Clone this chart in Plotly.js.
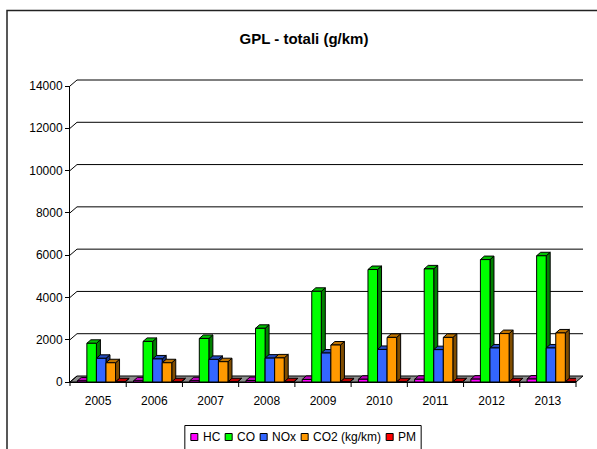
<!DOCTYPE html>
<html><head><meta charset="utf-8">
<script src="https://cdn.plot.ly/plotly-3.0.1.min.js"></script>
<style>html,body{margin:0;padding:0;background:#fff;}#chart{width:597px;height:449px;}</style>
</head><body><div id="chart"></div>
<script>
// ---- data ----
const years = ['2005','2006','2007','2008','2009','2010','2011','2012','2013'];
const seriesNames = ['HC','CO','NOx','CO2 (kg/km)','PM'];
const hc  = [50, 55, 60, 70, 120, 130, 130, 135, 140];
const co  = [1830, 1920, 2060, 2540, 4290, 5320, 5350, 5790, 5970];
const nox = [1120, 1090, 1070, 1130, 1370, 1540, 1530, 1610, 1610];
const co2 = [910, 910, 960, 1140, 1750, 2110, 2110, 2290, 2320];
const pm  = [10, 10, 10, 10, 10, 10, 10, 10, 10];
const yTicks = [0, 2000, 4000, 6000, 8000, 10000, 12000, 14000];
const yTickLabels = ['0', '2000', '4000', '6000', '8000', '10000', '12000', '14000'];
const titleText = 'GPL - totali (g/km)';

// ---- styles ----
const colors = ['#FF00FF', '#00FF00', '#3366FF', '#FF9900', '#FF0000'];
const W = 597, H = 449, L = 70, R = 576, T = 86, B = 382;
const pw = R - L, ph = B - T;
const yMax = 14000;
const bargap = 0.15;
const shift = 0.055; // 3D perspective shift of the bar row (category units)
const font = "'Liberation Sans', Arial, sans-serif";
const px = x => (x - L) / pw;
const py = y => (B - y) / ph;

function shade(hex, f) {
  const n = parseInt(hex.slice(1), 16);
  const r = Math.round(((n >> 16) & 255) * f), g = Math.round(((n >> 8) & 255) * f), b = Math.round((n & 255) * f);
  return `rgb(${r},${g},${b})`;
}

const series = [hc, co, nox, co2, pm];
const nS = series.length, bw = (1 - bargap) / nS;
const xIdx = years.map((_, i) => i);
const traces = series.map((vals, k) => ({
  type: 'bar', name: seriesNames[k], x: xIdx, y: vals,
  offset: -(1 - bargap) / 2 + k * bw + shift, width: bw,
  marker: { color: colors[k], line: { color: '#000', width: 1 } },
  showlegend: false, hoverinfo: 'skip'
}));

const shapes = [];
// outer border
shapes.push({ type: 'rect', xref: 'paper', yref: 'paper', x0: px(7), x1: px(640), y0: py(10.5), y1: py(500),
  line: { color: '#222', width: 1.5 }, fillcolor: 'rgba(0,0,0,0)', layer: 'below' });
// 3D depth of wall
const gx = 7 / pw, gy = 6 / ph;
// floor
shapes.push({ type: 'path', xref: 'paper', yref: 'paper', layer: 'below',
  path: `M 0,0 L 1,0 L ${1 + gx},${gy} L ${gx},${gy} Z`, fillcolor: '#8c8c8c', line: { color: '#000', width: 1 } });
// gridlines (back wall) + connectors
yTicks.forEach(v => {
  const yf = v / yMax, yb = v / yMax + gy;
  if (v > 0) {
    shapes.push({ type: 'line', xref: 'paper', yref: 'paper', layer: 'below', x0: gx, x1: 1 + gx, y0: yb, y1: yb, line: { color: '#000', width: 1 } });
  }
  shapes.push({ type: 'line', xref: 'paper', yref: 'paper', layer: 'below', x0: 0, x1: gx, y0: yf, y1: yb, line: { color: '#000', width: 1 } });
});
// y axis extension below floor + x category boundary ticks
shapes.push({ type: 'line', xref: 'paper', yref: 'paper', x0: 0, x1: 0, y0: 0, y1: -4 / ph, line: { color: '#000', width: 1 } });
for (let i = 1; i <= years.length; i++) {
  shapes.push({ type: 'line', xref: 'paper', yref: 'paper', x0: i / years.length, x1: i / years.length, y0: 0, y1: -5 / ph, line: { color: '#000', width: 1 } });
}
// bar depth faces
const dxD = 4 / (pw / years.length), dyD = 3.5 * yMax / ph;
series.forEach((vals, k) => {
  vals.forEach((v, i) => {
    const xl = i - (1 - bargap) / 2 + k * bw + shift, xr = xl + bw;
    shapes.push({ type: 'path', xref: 'x', yref: 'y', layer: 'below',
      path: `M ${xr},0 L ${xr},${v} L ${xr + dxD},${v + dyD} L ${xr + dxD},${dyD} Z`,
      fillcolor: shade(colors[k], 0.5), line: { color: '#000', width: 1 } });
    shapes.push({ type: 'path', xref: 'x', yref: 'y', layer: 'below',
      path: `M ${xl},${v} L ${xr},${v} L ${xr + dxD},${v + dyD} L ${xl + dxD},${v + dyD} Z`,
      fillcolor: shade(colors[k], 0.75), line: { color: '#000', width: 1 } });
  });
});

// manual legend
const annotations = [];
const cv = document.createElement('canvas').getContext('2d');
cv.font = `12px ${font}`;
const sq = 7, gapST = 4, gapTS = 6;
let total = 0;
const widths = seriesNames.map(n => cv.measureText(n).width);
widths.forEach((w, k) => { total += sq + gapST + w + (k < widths.length - 1 ? gapTS : 0); });
const legCx = 303, legPad = 6;
const boxL = legCx - total / 2 - legPad, boxR = legCx + total / 2 + legPad;
shapes.push({ type: 'rect', xref: 'paper', yref: 'paper', x0: px(boxL), x1: px(boxR), y0: py(425.5), y1: py(470),
  line: { color: '#000', width: 1 }, fillcolor: '#fff' });
let cur = legCx - total / 2;
const legY = 437;
seriesNames.forEach((n, k) => {
  shapes.push({ type: 'rect', xref: 'paper', yref: 'paper', x0: px(cur), x1: px(cur + sq), y0: py(legY - sq / 2), y1: py(legY + sq / 2),
    fillcolor: colors[k], line: { color: '#000', width: 1 } });
  const tx = cur + sq + gapST;
  annotations.push({ xref: 'paper', yref: 'paper', x: px(tx - 1), y: py(legY), xanchor: 'left', yanchor: 'middle',
    text: n, showarrow: false, font: { family: font, size: 12, color: '#000' } });
  cur = tx + widths[k] + gapTS;
});

const layout = {
  width: W, height: H,
  margin: { l: L, r: W - R, t: T, b: H - B, pad: 0 },
  paper_bgcolor: '#fff', plot_bgcolor: 'rgba(0,0,0,0)',
  barmode: 'group', bargap: bargap, bargroupgap: 0,
  title: { text: titleText, x: 304 / W, xanchor: 'center', y: 1 - 38.5 / H, yanchor: 'middle',
    font: { family: font, size: 15, color: '#000', weight: 'bold' } },
  xaxis: { range: [-0.5, years.length - 0.5], tickmode: 'array', tickvals: xIdx, ticktext: years,
    showgrid: false, zeroline: false, showline: true, linecolor: '#000', linewidth: 1, ticks: '',
    ticklabelstandoff: 8,
    tickfont: { family: font, size: 12, color: '#000' }, fixedrange: true },
  yaxis: { range: [0, yMax], tickmode: 'array', tickvals: yTicks, ticktext: yTickLabels, showgrid: false, zeroline: false,
    showline: true, linecolor: '#000', linewidth: 1, ticks: 'outside', ticklen: 4, tickcolor: '#000',
    tickfont: { family: font, size: 12, color: '#000' }, fixedrange: true },
  shapes: shapes, annotations: annotations, showlegend: false
};
Plotly.newPlot('chart', traces, layout, { displayModeBar: false, staticPlot: true });
</script></body></html>
